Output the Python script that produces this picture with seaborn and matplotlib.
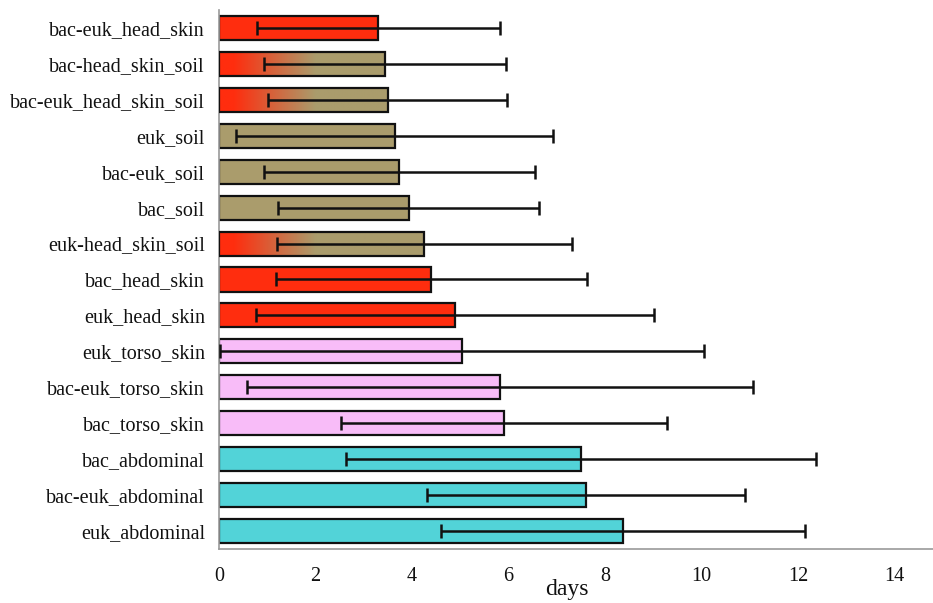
import numpy as np
import pandas as pd
import matplotlib
matplotlib.use("Agg")
import matplotlib.pyplot as plt
import seaborn as sns
from matplotlib.colors import to_rgba

# Mean days and standard deviation for each dataset
categories = [
    "bac-euk_head_skin", "bac-head_skin_soil", "bac-euk_head_skin_soil",
    "euk_soil", "bac-euk_soil", "bac_soil", "euk-head_skin_soil",
    "bac_head_skin", "euk_head_skin", "euk_torso_skin", "bac-euk_torso_skin",
    "bac_torso_skin", "bac_abdominal", "bac-euk_abdominal", "euk_abdominal",
]
mean_days = [3.30, 3.44, 3.50, 3.64, 3.74, 3.93, 4.26, 4.40, 4.89,
             5.04, 5.82, 5.91, 7.50, 7.61, 8.38]
sd_days = [2.52, 2.50, 2.48, 3.28, 2.81, 2.71, 3.05, 3.22, 4.12,
           5.02, 5.24, 3.38, 4.87, 3.30, 3.77]
groups = ["head_skin", "mixed", "mixed", "soil", "soil", "soil", "mixed",
          "head_skin", "head_skin", "torso_skin", "torso_skin", "torso_skin",
          "abdominal", "abdominal", "abdominal"]

RED = "#ff2d0e"
OLIVE = "#aa9c6c"
palette = {"head_skin": RED, "soil": OLIVE, "mixed": OLIVE,
           "torso_skin": "#f8bcf8", "abdominal": "#52d3d8"}

df = pd.DataFrame({"category": categories, "days": mean_days,
                   "sd": sd_days, "group": groups})

sns.set_style("white")
plt.rcParams["font.family"] = ["Liberation Serif", "DejaVu Serif"]

fig = plt.figure(figsize=(9.33, 6.03), dpi=100)
ax = fig.add_axes([0.2347, 0.0896, 0.7653, 0.8938])

sns.barplot(data=df, x="days", y="category", hue="group", palette=palette,
            dodge=False, width=0.67, edgecolor="#111111", linewidth=1.6,
            saturation=1, legend=False, ax=ax, order=categories, errorbar=None)

ax.errorbar(df["days"], np.arange(len(categories)), xerr=df["sd"],
            fmt="none", ecolor="#111111", elinewidth=1.8, capsize=5,
            capthick=1.8, zorder=5)

# Red-to-olive fade for the bars that combine head skin and soil
mixed_idx = {i for i, g in enumerate(groups) if g == "mixed"}
c_red = np.array(to_rgba(RED))
c_olive = np.array(to_rgba(OLIVE))
for patch in list(ax.patches):
    yc = patch.get_y() + patch.get_height() / 2
    idx = int(round(yc))
    if idx not in mixed_idx:
        continue
    w = patch.get_width()
    xs = np.linspace(0, w, 400)
    t = np.clip((xs - 0.3) / 1.7, 0, 1)[:, None]
    cols = c_red * (1 - t) + c_olive * t
    img = ax.imshow(cols[None, :, :],
                    extent=(0, w, patch.get_y() + patch.get_height(), patch.get_y()),
                    aspect="auto", zorder=2, interpolation="bilinear")
    img.set_clip_path(patch)
    patch.set_facecolor("none")
    patch.set_zorder(3)

ax.set_xlim(0, 14.8)
ax.set_ylim(len(categories) - 0.5, -0.5)
ax.set_xticks(np.arange(0, 15, 2))
ax.set_yticks(np.arange(len(categories)))
ax.set_yticklabels(categories)
ax.set_yticks(np.arange(-0.5, len(categories), 1), minor=True)
ax.tick_params(axis="y", which="major", length=0, labelsize=14.5, pad=10, colors="#111111")
ax.tick_params(axis="y", which="minor", length=4, width=1, color="#888888", direction="out")
ax.tick_params(axis="x", which="major", length=5, width=1, color="#888888",
               labelsize=14.5, labelcolor="#111111", pad=8)

for side in ("top", "right"):
    ax.spines[side].set_visible(False)
for side in ("left", "bottom"):
    ax.spines[side].set_color("#999999")
    ax.spines[side].set_linewidth(1.2)

ax.set_xlabel("days", fontsize=17, color="#111111", va="center")
ax.xaxis.set_label_coords(0.487, -0.075)
ax.set_ylabel("")

fig.savefig("out.png", dpi=100)
